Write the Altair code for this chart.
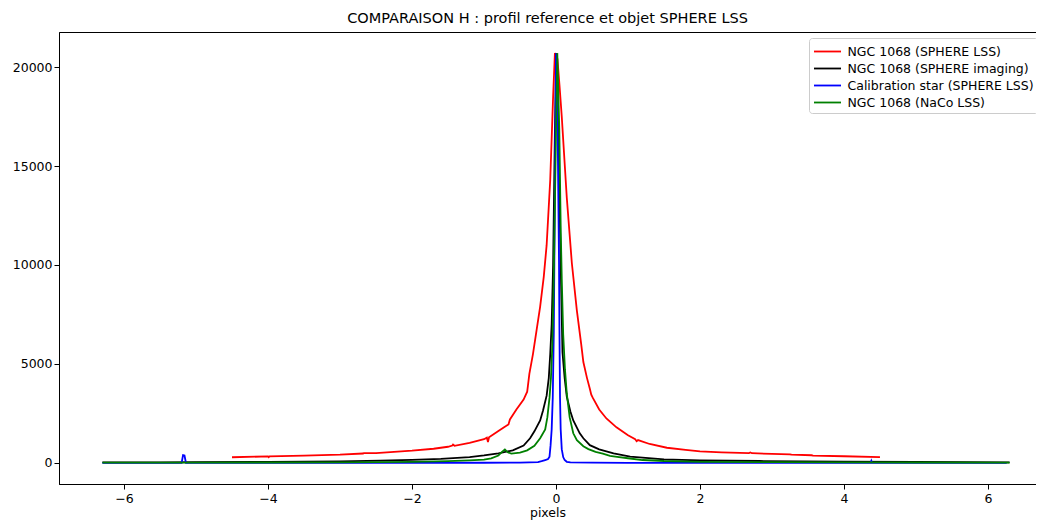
import altair as alt
import pandas as pd

names = ["NGC 1068 (SPHERE LSS)", "NGC 1068 (SPHERE imaging)",
         "Calibration star (SPHERE LSS)", "NGC 1068 (NaCo LSS)"]
colors = ["#ff0000", "#000000", "#0000ff", "#008000"]

red_x = [-4.5, -4.0, -3.99, -3.98, -3.5, -3.0, -2.68, -2.67, -2.5, -2.0, -1.7, -1.5, -1.44, -1.43,
         -1.41, -1.2, -1.0, -0.96, -0.945, -0.93, -0.8, -0.7, -0.66, -0.64, -0.55, -0.45, -0.4,
         -0.39, -0.37, -0.32, -0.27, -0.22, -0.17, -0.13, -0.08, -0.04, -0.015, 0.02, 0.05, 0.08,
         0.15, 0.22, 0.29, 0.35, 0.38, 0.43, 0.47, 0.49, 0.51, 0.6, 0.7, 0.84, 1.0, 1.1, 1.12, 1.14,
         1.3, 1.54, 1.8, 2.0, 2.3, 2.68, 2.7, 2.72, 3.0, 3.25, 3.27, 3.55, 3.57, 4.0, 4.5]
red_y = [290, 330, 290, 330, 370, 420, 480, 500, 500, 620, 720, 820, 880, 930,
         870, 1020, 1200, 1280, 1060, 1300, 1620, 1850, 1950, 2200, 2700, 3200, 3600,
         3900, 4500, 5500, 6700, 7900, 9400, 11000, 14300, 18500, 20700, 20400, 19000, 17500,
         13400, 10100, 7700, 6000, 5100, 4300, 3750, 3450, 3300, 2700, 2250, 1800, 1400, 1200, 1100, 1160,
         960, 770, 660, 590, 540, 500, 530, 495, 460, 440, 420, 390, 370, 340, 300]

black_x = [-6.3, -5.5, -5.0, -4.0, -3.0, -2.44, -2.0, -1.6, -1.2, -1.0, -0.8, -0.6, -0.45, -0.36,
           -0.3, -0.22, -0.18, -0.13, -0.1, -0.08, -0.06, -0.04, -0.015, 0.005, 0.03, 0.065, 0.09,
           0.12, 0.15, 0.2, 0.24, 0.33, 0.38, 0.47, 0.6, 0.8, 1.03, 1.5, 2.0, 2.83, 4.0, 5.0, 6.3]
black_y = [30, 35, 40, 55, 85, 115, 160, 210, 300, 380, 490, 640, 880, 1250,
           1600, 2150, 2650, 3400, 4300, 5500, 7000, 10000, 16800, 20700, 17000, 10100, 5600,
           4300, 3350, 2600, 2150, 1500, 1250, 900, 690, 490, 320, 180, 130, 100, 70, 50, 35]

blue_x = [-6.3, -5.3, -5.2, -5.18, -5.16, -5.14, -4.0, -2.0, -1.0, -0.5, -0.25, -0.2, -0.15, -0.11,
          -0.09, -0.075, -0.06, -0.045, -0.03, -0.023, -0.009, 0.0, 0.023, 0.042, 0.048, 0.056,
          0.065, 0.08, 0.1, 0.12, 0.15, 0.2, 0.5, 1.0, 2.0, 4.37, 4.38, 4.39, 6.26]
blue_y = [5, 8, 10, 400, 380, 10, 8, 10, 12, 15, 40, 90, 150, 200,
          320, 900, 1700, 3300, 6700, 10100, 16800, 20700, 16800, 10100, 6700, 3300,
          1700, 700, 300, 150, 60, 30, 15, 10, 8, 8, 110, 8, 5]

green_x = [-6.3, -5.0, -4.0, -3.0, -2.0, -1.5, -1.2, -1.0, -0.9, -0.8, -0.75, -0.71, -0.67, -0.62,
           -0.5, -0.4, -0.3, -0.22, -0.15, -0.12, -0.09, -0.07, -0.05, -0.035, -0.015, 0.0, 0.018,
           0.046, 0.065, 0.08, 0.1, 0.125, 0.15, 0.19, 0.24, 0.29, 0.38, 0.45, 0.55, 0.65, 0.75,
           0.85, 1.0, 1.2, 1.5, 2.0, 3.0, 4.0, 5.0, 6.3]
green_y = [20, 20, 25, 35, 60, 90, 130, 170, 230, 380, 560, 680, 540, 470,
           520, 640, 870, 1250, 1700, 2300, 3300, 4300, 6000, 8500, 13000, 16800, 20700,
           16800, 12000, 9300, 6500, 4700, 3500, 2300, 1500, 1150, 850, 700, 560, 470, 360,
           310, 240, 150, 100, 60, 40, 30, 25, 20]

xs = [red_x, black_x, blue_x, green_x]
ys = [red_y, black_y, blue_y, green_y]

frames = []
for n, xv, yv in zip(names, xs, ys):
    frames.append(pd.DataFrame({"x": xv, "y": yv, "series": n}))
df = pd.concat(frames, ignore_index=True)

FONT = "DejaVu Sans"

color = alt.Color(
    "series:N",
    scale=alt.Scale(domain=names, range=colors),
    sort=names,
    legend=alt.Legend(
        title=None, orient="none", legendX=750, legendY=6,
        symbolType="M-1.5,0H1.5", symbolSize=324, symbolStrokeWidth=1.8,
        symbolOffset=5, labelOffset=10, labelLimit=400,
        labelFont=FONT, labelFontSize=12.5, labelColor="#000",
        padding=3.5, rowPadding=0,
        strokeColor="#cccccc", fillColor="#ffffff", cornerRadius=3,
    ),
)

x_enc = alt.X(
    "x:Q",
    scale=alt.Scale(domain=[-6.903, 6.667], nice=False, zero=False),
    axis=alt.Axis(
        values=[-6, -4, -2, 0, 2, 4, 6], title="pixels", grid=False,
        labelExpr="replace(datum.label, '-', '\u2212')",
        tickSize=5, tickColor="#000", domainColor="#000",
        labelFont=FONT, labelFontSize=12.5, labelColor="#000", labelPadding=3,
        titleFont=FONT, titleFontSize=12.5, titleFontWeight="normal", titleColor="#000",
        titlePadding=2,
    ),
)
y_enc = alt.Y(
    "y:Q",
    scale=alt.Scale(domain=[-1061, 21768], nice=False, zero=False),
    axis=alt.Axis(
        values=[0, 5000, 10000, 15000, 20000], title=None, grid=False, format="d",
        tickSize=5, tickColor="#000", domainColor="#000",
        labelFont=FONT, labelFontSize=12.5, labelColor="#000", labelPadding=2,
    ),
)

base = alt.Chart(df).mark_line(strokeWidth=1.8).encode(x=x_enc, y=y_enc, color=color)

layers = [base.transform_filter(alt.datum.series == n) for n in names]

chart = alt.layer(*layers).properties(
    width=977, height=452,
    title=alt.Title("COMPARAISON H : profil reference et objet SPHERE LSS",
                    font=FONT, fontSize=14.5, fontWeight="normal", color="#000",
                    anchor="middle", offset=6),
    autosize=alt.AutoSizeParams(type="none"),
    padding={"left": 51, "top": 24, "right": 0, "bottom": 37},
).configure_view(stroke="#000", strokeWidth=1)

chart.save("out.html", embed_options={"renderer": "svg", "actions": False})
